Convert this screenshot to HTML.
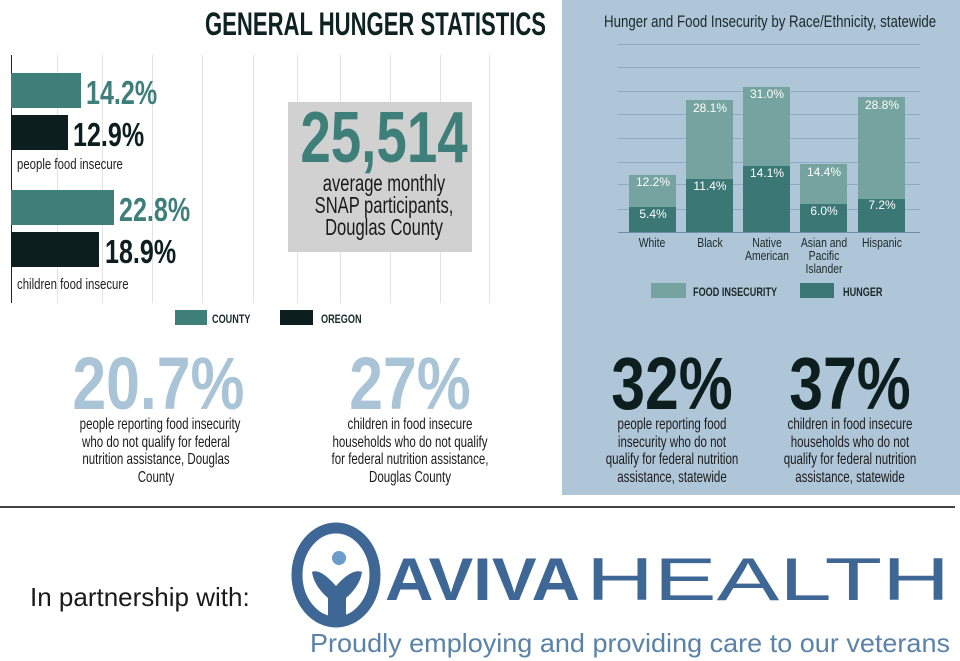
<!DOCTYPE html>
<html><head><meta charset="utf-8"><style>
body{margin:0;width:960px;height:661px;background:#fff;position:relative;overflow:hidden;font-family:"Liberation Sans",sans-serif}
.a{position:absolute;white-space:nowrap}
.c{transform-origin:left top;transform:scaleX(0.76);font-weight:bold}
.n{transform-origin:center top;transform:scaleX(0.72)}
.g{position:absolute;width:1px;background:#e2e2e2;top:55px;height:248px}
.h{position:absolute;height:1px;background:#8fa9bf;left:618px;width:302px}
.xl{position:absolute;width:80px;text-align:center;font-size:13px;line-height:13px;color:#1a2a2a;transform:scaleX(0.8)}
.bt{position:absolute;width:48px;text-align:center;color:#fff;font-size:12px}
.big{font-size:74px;font-weight:bold;transform:scaleX(0.82)}
</style></head><body>
<div class="a c" style="left:205px;top:6px;font-size:32px;color:#0d2221;transform:scaleX(0.69)">GENERAL HUNGER STATISTICS</div>
<div class="g" style="left:57px"></div><div class="g" style="left:102px"></div><div class="g" style="left:152px"></div><div class="g" style="left:202px"></div><div class="g" style="left:253px"></div><div class="g" style="left:297px"></div><div class="g" style="left:340px"></div><div class="g" style="left:390px"></div><div class="g" style="left:440px"></div><div class="g" style="left:489px"></div>
<div class="a" style="left:11px;top:55px;width:1px;height:248px;background:#222"></div>
<div class="a" style="left:11px;top:73px;width:70px;height:35px;background:#3f7f7a"></div>
<div class="a" style="left:11px;top:115px;width:57px;height:35px;background:#0c1e1e"></div>
<div class="a" style="left:11px;top:190px;width:103px;height:35px;background:#3f7f7a"></div>
<div class="a" style="left:11px;top:232px;width:88px;height:35px;background:#0c1e1e"></div>
<div class="a c" style="left:86px;top:74px;font-size:33px;color:#3f7f7a">14.2%</div>
<div class="a c" style="left:73px;top:116px;font-size:33px;color:#0c1e1e">12.9%</div>
<div class="a c" style="left:119px;top:191px;font-size:33px;color:#3f7f7a">22.8%</div>
<div class="a c" style="left:105px;top:233px;font-size:33px;color:#0c1e1e">18.9%</div>
<div class="a c" style="left:17px;top:156px;font-size:15px;font-weight:normal;color:#222">people food insecure</div>
<div class="a c" style="left:17px;top:276px;font-size:15px;font-weight:normal;color:#222">children food insecure</div>
<div class="a" style="left:175px;top:310px;width:32px;height:15px;background:#3f7f7a"></div>
<div class="a c" style="left:212px;top:312px;font-size:12px;color:#1a2a2a">COUNTY</div>
<div class="a" style="left:280px;top:310px;width:33px;height:15px;background:#0c1e1e"></div>
<div class="a c" style="left:321px;top:312px;font-size:12px;color:#1a2a2a">OREGON</div>
<div class="a" style="left:288px;top:102px;width:184px;height:150px;background:#d1d1d1"></div>
<div class="a n" style="left:230px;top:102px;width:308px;text-align:center;font-size:72px;line-height:72px;font-weight:bold;color:#3f7f7a;transform:scaleX(0.76)">25,514</div>
<div class="a n" style="left:230px;top:172px;width:308px;text-align:center;font-size:23px;line-height:22px;color:#1a1a1a">average monthly<br>SNAP participants,<br>Douglas County</div>

<div class="a" style="left:562px;top:0;width:398px;height:495px;background:#afc6d9"></div>
<div class="a n" style="left:560px;top:12px;width:400px;text-align:center;font-size:17px;color:#1a2a2a;transform:scaleX(0.78)">Hunger and Food Insecurity by Race/Ethnicity, statewide</div>
<div class="h" style="top:44px"></div><div class="h" style="top:67px"></div><div class="h" style="top:91px"></div><div class="h" style="top:114px"></div><div class="h" style="top:138px"></div><div class="h" style="top:162px"></div><div class="h" style="top:184px"></div><div class="h" style="top:209px"></div><div class="h" style="top:232px;background:#6f8ea8"></div>
<div class="a" style="left:629px;top:175px;width:47px;height:57px;background:#74a3a0"></div><div class="a" style="left:629px;top:207px;width:47px;height:25px;background:#3a7775"></div>
<div class="a" style="left:686px;top:100px;width:47px;height:132px;background:#74a3a0"></div><div class="a" style="left:686px;top:179px;width:47px;height:53px;background:#3a7775"></div>
<div class="a" style="left:743px;top:87px;width:47px;height:145px;background:#74a3a0"></div><div class="a" style="left:743px;top:166px;width:47px;height:66px;background:#3a7775"></div>
<div class="a" style="left:800px;top:164px;width:47px;height:68px;background:#74a3a0"></div><div class="a" style="left:800px;top:204px;width:47px;height:28px;background:#3a7775"></div>
<div class="a" style="left:858px;top:97px;width:47px;height:135px;background:#74a3a0"></div><div class="a" style="left:858px;top:199px;width:47px;height:33px;background:#3a7775"></div>
<div class="bt" style="left:629px;top:175px">12.2%</div><div class="bt" style="left:629px;top:207px">5.4%</div>
<div class="bt" style="left:686px;top:101px">28.1%</div><div class="bt" style="left:686px;top:179px">11.4%</div>
<div class="bt" style="left:743px;top:87px">31.0%</div><div class="bt" style="left:743px;top:166px">14.1%</div>
<div class="bt" style="left:800px;top:165px">14.4%</div><div class="bt" style="left:800px;top:204px">6.0%</div>
<div class="bt" style="left:858px;top:98px">28.8%</div><div class="bt" style="left:858px;top:198px">7.2%</div>
<div class="xl" style="left:612px;top:236px">White</div>
<div class="xl" style="left:670px;top:236px">Black</div>
<div class="xl" style="left:727px;top:236px">Native<br>American</div>
<div class="xl" style="left:784px;top:236px">Asian and<br>Pacific<br>Islander</div>
<div class="xl" style="left:842px;top:236px">Hispanic</div>
<div class="a" style="left:651px;top:283px;width:35px;height:15px;background:#74a3a0"></div>
<div class="a c" style="left:693px;top:285px;font-size:12px;color:#1a2a2a">FOOD INSECURITY</div>
<div class="a" style="left:800px;top:283px;width:34px;height:15px;background:#3a7775"></div>
<div class="a c" style="left:843px;top:285px;font-size:12px;color:#1a2a2a">HUNGER</div>

<div class="a n big" style="left:54px;top:341px;width:204px;text-align:center;color:#a9c4d7">20.7%</div>
<div class="a n" style="left:50px;top:416px;width:212px;text-align:center;font-size:16px;line-height:17.5px;color:#1a1a1a">people reporting food insecurity<br>who do not qualify for federal<br>nutrition assistance, Douglas<br>County</div>
<div class="a n big" style="left:308px;top:341px;width:204px;text-align:center;color:#a9c4d7">27%</div>
<div class="a n" style="left:300px;top:416px;width:220px;text-align:center;font-size:16px;line-height:17.5px;color:#1a1a1a">children in food insecure<br>households who do not qualify<br>for federal nutrition assistance,<br>Douglas County</div>
<div class="a n big" style="left:570px;top:341px;width:204px;text-align:center;color:#0c1e1e">32%</div>
<div class="a n" style="left:562px;top:416px;width:220px;text-align:center;font-size:16px;line-height:17.5px;color:#1a1a1a">people reporting food<br>insecurity who do not<br>qualify for federal nutrition<br>assistance, statewide</div>
<div class="a n big" style="left:748px;top:341px;width:204px;text-align:center;color:#0c1e1e">37%</div>
<div class="a n" style="left:740px;top:416px;width:220px;text-align:center;font-size:16px;line-height:17.5px;color:#1a1a1a">children in food insecure<br>households who do not<br>qualify for federal nutrition<br>assistance, statewide</div>

<div class="a" style="left:0;top:506px;width:955px;height:2px;background:#444"></div>
<div class="a" style="left:30px;top:582px;font-size:26px;color:#1a1a1a">In partnership with:</div>
<svg class="a" style="left:0;top:510px" width="960" height="151" viewBox="0 510 960 151">
<ellipse cx="336" cy="575" rx="39" ry="47" fill="none" stroke="#3e6795" stroke-width="11"/>
<circle cx="339" cy="558" r="7" fill="#6a9ccc"/>
<path d="M312 572 Q320 568 336 586 Q352 568 362 572 Q360 586 346 598 L346 618 L328 618 L328 598 Q314 586 312 572Z" fill="#3e6795"/>
<text x="385" y="600" font-family="Liberation Sans" font-weight="bold" font-size="60" fill="#3e6795" textLength="195" lengthAdjust="spacingAndGlyphs">AVIVA</text>
<text x="586" y="600" font-family="Liberation Sans" font-size="60" fill="#3e6795" textLength="364" lengthAdjust="spacingAndGlyphs">HEALTH</text>
<text x="310" y="652" font-family="Liberation Sans" font-size="26" fill="#5b82a8" textLength="640" lengthAdjust="spacingAndGlyphs">Proudly employing and providing care to our veterans</text>
</svg>
</body></html>
